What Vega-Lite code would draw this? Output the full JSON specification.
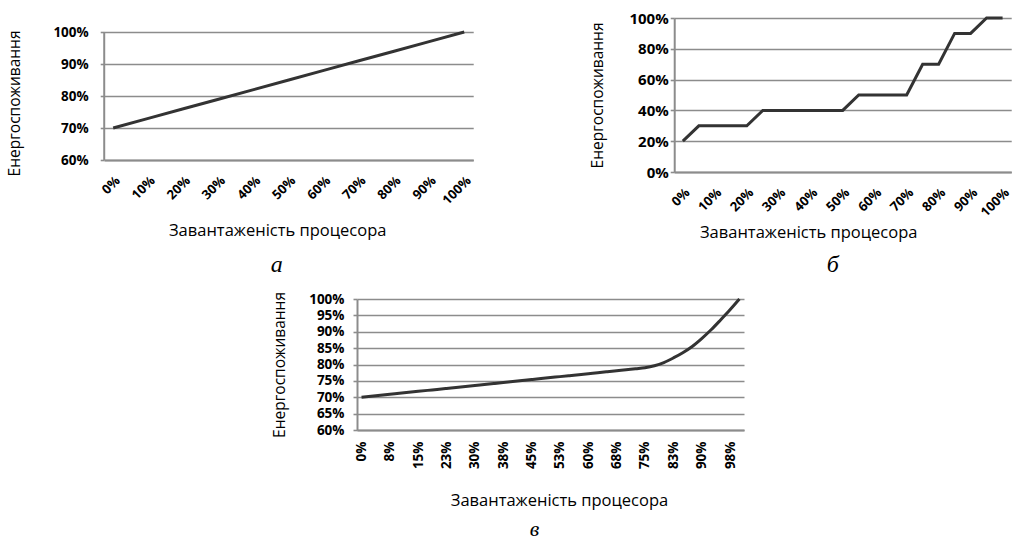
{
  "$schema": "https://vega.github.io/schema/vega-lite/v6.json",
  "background": "white",
  "padding": {"left": 7, "top": 11, "right": 0, "bottom": 0},
  "bounds": "full",
  "center": true,
  "spacing": 14,
  "config": {
    "view": {"stroke": null},
    "font": "Open Sans",
    "axis": {
      "labelFont": "Open Sans",
      "labelFontWeight": "bold",
      "labelFontSize": 13.5,
      "labelColor": "#000000",
      "titleFont": "Open Sans",
      "titleFontWeight": "normal",
      "titleFontSize": 15.5,
      "titleColor": "#000000",
      "domainColor": "#8c8c8c",
      "domainWidth": 2,
      "gridColor": "#8c8c8c",
      "gridWidth": 1.6,
      "gridOpacity": 1,
      "tickColor": "#8c8c8c",
      "tickWidth": 1.6,
      "labelOverlap": false,
      "labelFlush": false
    },
    "axisX": {"titleFontSize": 16.5},
    "title": {"font": "Liberation Serif", "fontStyle": "italic", "fontWeight": "normal", "fontSize": 24, "color": "#000000"}
  },
  "datasets": {
    "a": [
      {"load": 0, "power": 70}, {"load": 10, "power": 73}, {"load": 20, "power": 76},
      {"load": 30, "power": 79}, {"load": 40, "power": 82}, {"load": 50, "power": 85},
      {"load": 60, "power": 88}, {"load": 70, "power": 91}, {"load": 80, "power": 94},
      {"load": 90, "power": 97}, {"load": 100, "power": 100}
    ],
    "b": [
      {"load": 0, "power": 20}, {"load": 5, "power": 30}, {"load": 10, "power": 30},
      {"load": 15, "power": 30}, {"load": 20, "power": 30}, {"load": 25, "power": 40},
      {"load": 30, "power": 40}, {"load": 35, "power": 40}, {"load": 40, "power": 40},
      {"load": 45, "power": 40}, {"load": 50, "power": 40}, {"load": 55, "power": 50},
      {"load": 60, "power": 50}, {"load": 65, "power": 50}, {"load": 70, "power": 50},
      {"load": 75, "power": 70}, {"load": 80, "power": 70}, {"load": 85, "power": 90},
      {"load": 90, "power": 90}, {"load": 95, "power": 100}, {"load": 100, "power": 100}
    ],
    "c": [
      {"load": 0, "power": 70}, {"load": 2.5, "power": 70.3}, {"load": 5, "power": 70.6},
      {"load": 7.5, "power": 70.9}, {"load": 10, "power": 71.2}, {"load": 12.5, "power": 71.5},
      {"load": 15, "power": 71.8}, {"load": 17.5, "power": 72.1}, {"load": 20, "power": 72.4},
      {"load": 22.5, "power": 72.7}, {"load": 25, "power": 73.0}, {"load": 27.5, "power": 73.3},
      {"load": 30, "power": 73.6}, {"load": 32.5, "power": 73.9}, {"load": 35, "power": 74.2},
      {"load": 37.5, "power": 74.5}, {"load": 40, "power": 74.8}, {"load": 42.5, "power": 75.1},
      {"load": 45, "power": 75.4}, {"load": 47.5, "power": 75.7}, {"load": 50, "power": 76.0},
      {"load": 52.5, "power": 76.3}, {"load": 55, "power": 76.6}, {"load": 57.5, "power": 76.9},
      {"load": 60, "power": 77.2}, {"load": 62.5, "power": 77.5}, {"load": 65, "power": 77.8},
      {"load": 67.5, "power": 78.1}, {"load": 70, "power": 78.4}, {"load": 72.5, "power": 78.7},
      {"load": 75, "power": 79.0}, {"load": 77.5, "power": 79.6}, {"load": 80, "power": 80.6},
      {"load": 82.5, "power": 82.0}, {"load": 85, "power": 83.6}, {"load": 87.5, "power": 85.5},
      {"load": 90, "power": 87.9}, {"load": 92.5, "power": 90.6}, {"load": 95, "power": 93.6},
      {"load": 97.5, "power": 96.7}, {"load": 100, "power": 100}
    ],
    "frame": [{"edge": 0}],
    "blank": []
  },
  "vconcat": [
    {
      "bounds": "flush",
      "spacing": 201,
      "hconcat": [
        {
          "width": 369,
          "height": 142,
          "title": {"text": "а", "orient": "bottom", "frame": "group", "anchor": "middle", "dx": -12, "offset": 14},
          "layer": [
            {
              "data": {"name": "a"},
              "mark": {"type": "line", "color": "#333333", "strokeWidth": 3},
              "encoding": {
                "x": {
                  "field": "load", "type": "quantitative",
                  "scale": {"domain": [-2.56, 102.56], "nice": false, "zero": false},
                  "axis": {
                    "values": [0, 10, 20, 30, 40, 50, 60, 70, 80, 90, 100],
                    "labelExpr": "datum.value + '%'",
                    "labelAngle": -45,
                    "labelPadding": 14,
                    "labelFontSize": 13,
                    "ticks": false,
                    "grid": false,
                    "title": "Завантаженість процесора",
                    "titleX": 173,
                    "titleY": 70,
                    "titleBaseline": "middle"
                  }
                },
                "y": {
                  "field": "power", "type": "quantitative",
                  "scale": {"domain": [60, 104.375], "nice": false, "zero": false},
                  "axis": {
                    "values": [60, 70, 80, 90, 100],
                    "labelExpr": "datum.value + '%'",
                    "domain": false,
                    "grid": true,
                    "ticks": true,
                    "tickSize": 4,
                    "labelPadding": 12,
                    "title": "Енергоспоживання",
                    "titleX": -90,
                    "titleY": 85,
                    "titleBaseline": "middle",
                    "titleAlign": "center"
                  }
                }
              }
            },
            {
              "data": {"name": "frame"},
              "mark": {"type": "rule", "color": "#8c8c8c", "strokeWidth": 2},
              "encoding": {
                "x": {
                  "datum": -2.56, "type": "quantitative",
                  "axis": {
                    "values": [0, 10, 20, 30, 40, 50, 60, 70, 80, 90, 100],
                    "labelExpr": "datum.value + '%'",
                    "labelAngle": -45,
                    "labelPadding": 14,
                    "labelFontSize": 13,
                    "ticks": false,
                    "grid": false,
                    "title": "Завантаженість процесора",
                    "titleX": 173,
                    "titleY": 70,
                    "titleBaseline": "middle"
                  }
                },
                "y": {
                  "datum": 60, "type": "quantitative",
                  "axis": {
                    "values": [60, 70, 80, 90, 100],
                    "labelExpr": "datum.value + '%'",
                    "domain": false,
                    "grid": true,
                    "ticks": true,
                    "tickSize": 4,
                    "labelPadding": 12,
                    "title": "Енергоспоживання",
                    "titleX": -90,
                    "titleY": 85,
                    "titleBaseline": "middle",
                    "titleAlign": "center"
                  }
                },
                "y2": {"datum": 100}
              }
            }
          ]
        },
        {
          "width": 337,
          "height": 154,
          "data": {"name": "b"},
          "title": {"text": "б", "orient": "bottom", "frame": "group", "anchor": "middle", "dx": -10, "offset": 12},
          "mark": {"type": "line", "color": "#333333", "strokeWidth": 3},
          "encoding": {
            "x": {
              "field": "load", "type": "quantitative",
              "scale": {"domain": [-2.7, 102.7], "nice": false, "zero": false},
              "axis": {
                "values": [0, 10, 20, 30, 40, 50, 60, 70, 80, 90, 100],
                "labelExpr": "datum.value + '%'",
                "labelAngle": -45,
                "labelPadding": 14,
                "labelFontSize": 13,
                "ticks": false,
                "grid": false,
                "title": "Завантаженість процесора",
                "titleX": 134,
                "titleY": 60,
                "titleBaseline": "middle"
              }
            },
            "y": {
              "field": "power", "type": "quantitative",
              "scale": {"domain": [0, 100], "nice": false, "zero": false},
              "axis": {
                "values": [0, 20, 40, 60, 80, 100],
                "labelExpr": "datum.value + '%'",
                "labelFontSize": 15,
                "domain": true,
                "grid": true,
                "ticks": true,
                "tickSize": 4,
                "labelPadding": 2,
                "title": "Енергоспоживання",
                "titleX": -77,
                "titleBaseline": "middle",
                "titleAlign": "center"
              }
            }
          }
        }
      ]
    },
    {
      "bounds": "full",
      "spacing": 0,
      "hconcat": [
        {
          "width": 387,
          "height": 131,
          "data": {"name": "c"},
          "title": {"text": "в", "orient": "bottom", "frame": "group", "anchor": "middle", "dx": -16, "offset": 10, "fontSize": 22},
          "mark": {"type": "line", "color": "#333333", "strokeWidth": 3, "interpolate": "monotone"},
          "encoding": {
            "x": {
              "field": "load", "type": "quantitative",
              "scale": {"domain": [-1.2, 101.2], "nice": false, "zero": false},
              "axis": {
                "values": [0, 7.5, 15, 22.5, 30, 37.5, 45, 52.5, 60, 67.5, 75, 82.5, 90, 97.5],
                "labelExpr": "round(datum.value) + '%'",
                "labelAngle": -90,
                "labelPadding": 11,
                "ticks": false,
                "grid": false,
                "title": "Завантаженість процесора",
                "titleX": 202,
                "titleY": 70,
                "titleBaseline": "middle"
              }
            },
            "y": {
              "field": "power", "type": "quantitative",
              "scale": {"domain": [60, 100], "nice": false, "zero": false},
              "axis": {
                "values": [60, 65, 70, 75, 80, 85, 90, 95, 100],
                "labelExpr": "datum.value + '%'",
                "domain": true,
                "grid": true,
                "ticks": true,
                "tickSize": 4,
                "labelPadding": 9,
                "title": "Енергоспоживання",
                "titleX": -78,
                "titleBaseline": "middle",
                "titleAlign": "center"
              }
            }
          }
        },
        {
          "width": 13,
          "height": 1,
          "data": {"name": "blank"},
          "mark": {"type": "point", "opacity": 0},
          "encoding": {}
        }
      ]
    }
  ]
}
